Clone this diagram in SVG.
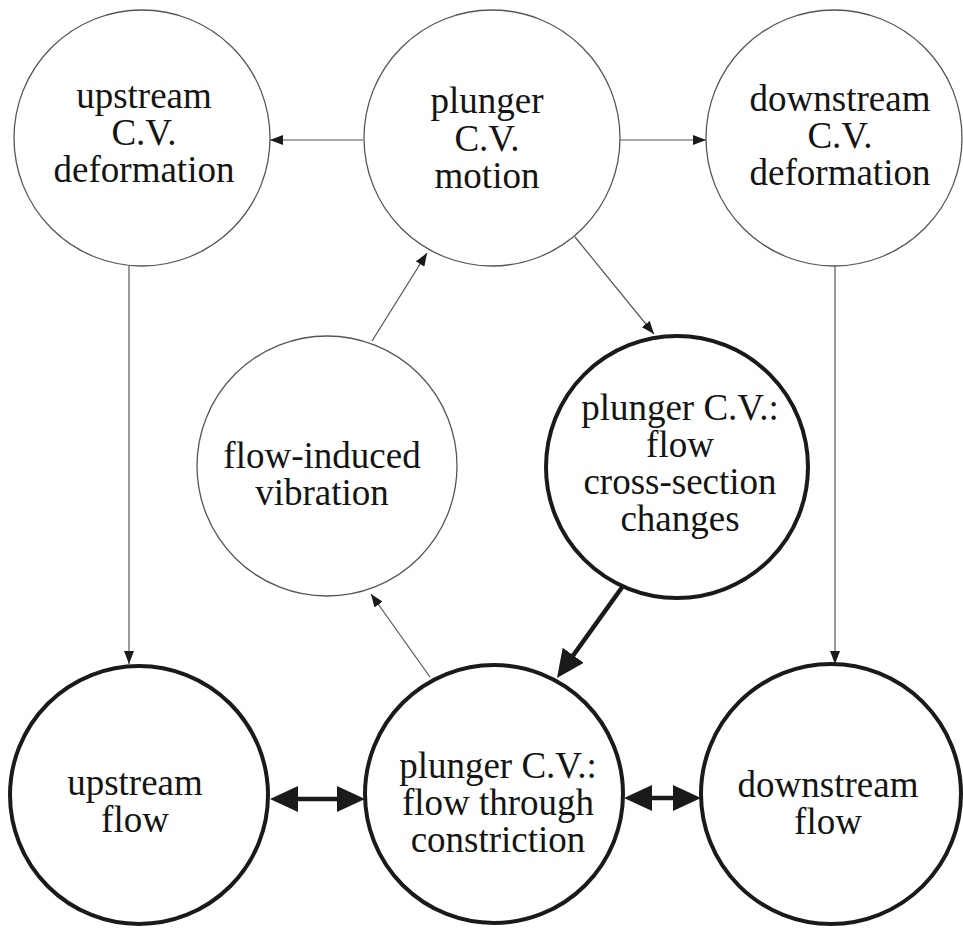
<svg xmlns="http://www.w3.org/2000/svg" width="963" height="931" viewBox="0 0 963 931">
<style>
.thin{fill:#fff;stroke:#555;stroke-width:1.3}
.thick{fill:#fff;stroke:#1a1a1a;stroke-width:4}
.t{font-family:"Liberation Serif","Times New Roman",serif;font-size:37px;fill:#141414;text-anchor:middle}
.c1{fill:none;stroke:#555;stroke-width:1.2;marker-end:url(#ah)}
.c2{fill:none;stroke:#1a1a1a;stroke-width:4.5;marker-end:url(#AH)}
.c3{fill:none;stroke:#1a1a1a;stroke-width:4.5;marker-start:url(#AH);marker-end:url(#AH)}
</style>
<defs>
<marker id="ah" markerUnits="userSpaceOnUse" markerWidth="13" markerHeight="10" refX="13" refY="5" orient="auto"><path d="M0,0 L13,5 L0,10 z" fill="#1a1a1a"/></marker>
<marker id="AH" markerUnits="userSpaceOnUse" markerWidth="28" markerHeight="26" refX="18" refY="13" orient="auto-start-reverse"><path d="M0,0 L28,13 L0,26 z" fill="#1a1a1a"/></marker>
</defs>
<rect width="963" height="931" fill="#fff"/>
<g id="connectors">
<line class="c1" x1="363" y1="140" x2="270" y2="140"/>
<line class="c1" x1="620" y1="140" x2="706" y2="140"/>
<line class="c1" x1="129" y1="266" x2="129" y2="664"/>
<line class="c1" x1="835" y1="266" x2="835" y2="664"/>
<line class="c1" x1="575" y1="237" x2="654" y2="334"/>
<line class="c1" x1="372" y1="341" x2="427" y2="253"/>
<line class="c1" x1="430" y1="677" x2="371" y2="594"/>
<line class="c2" x1="623" y1="586" x2="562.8" y2="669.9"/>
<line class="c3" x1="280" y1="799" x2="355" y2="799"/>
<line class="c3" x1="634" y1="798" x2="691" y2="798"/>
</g>
<g id="upstream-cv-deformation">
<circle class="thin" cx="142" cy="138" r="128"/>
<text class="t" x="144" y="108">upstream</text>
<text class="t" x="144" y="145">C.V.</text>
<text class="t" x="144" y="182">deformation</text>
</g>
<g id="plunger-cv-motion">
<circle class="thin" cx="492" cy="138" r="128"/>
<text class="t" x="487" y="113">plunger</text>
<text class="t" x="487" y="151">C.V.</text>
<text class="t" x="487" y="188">motion</text>
</g>
<g id="downstream-cv-deformation">
<circle class="thin" cx="834" cy="138" r="128"/>
<text class="t" x="840" y="111">downstream</text>
<text class="t" x="840" y="148">C.V.</text>
<text class="t" x="840" y="185">deformation</text>
</g>
<g id="flow-induced-vibration">
<circle class="thin" cx="327" cy="466" r="130"/>
<text class="t" x="322" y="468">flow-induced</text>
<text class="t" x="322" y="505">vibration</text>
</g>
<g id="plunger-cross-section">
<circle class="thick" cx="677" cy="467" r="131"/>
<text class="t" x="680" y="420">plunger C.V.:</text>
<text class="t" x="680" y="457">flow</text>
<text class="t" x="680" y="494">cross-section</text>
<text class="t" x="680" y="531">changes</text>
</g>
<g id="upstream-flow">
<circle class="thick" cx="139" cy="795" r="129"/>
<text class="t" x="135" y="795">upstream</text>
<text class="t" x="135" y="832">flow</text>
</g>
<g id="plunger-flow-constriction">
<circle class="thick" cx="494" cy="794" r="129"/>
<text class="t" x="498" y="778">plunger C.V.:</text>
<text class="t" x="498" y="815">flow through</text>
<text class="t" x="498" y="852">constriction</text>
</g>
<g id="downstream-flow">
<circle class="thick" cx="831" cy="794" r="130"/>
<text class="t" x="828" y="797">downstream</text>
<text class="t" x="828" y="834">flow</text>
</g>
</svg>
